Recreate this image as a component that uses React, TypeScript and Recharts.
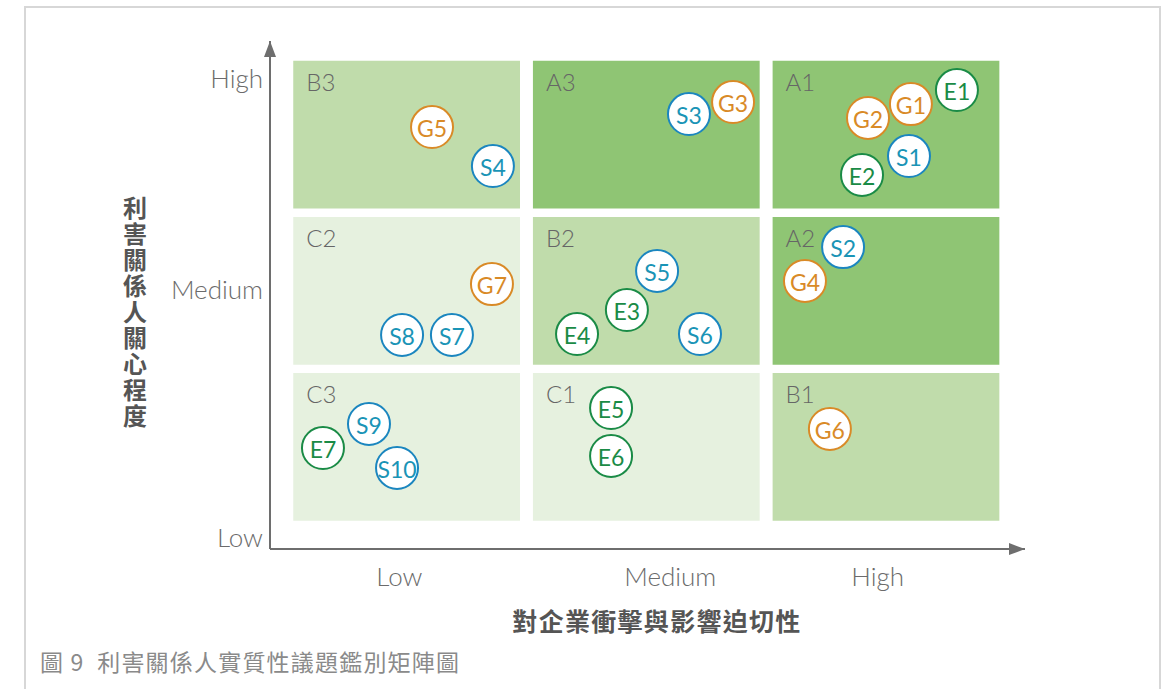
import {
  ScatterChart,
  Scatter,
  XAxis,
  YAxis,
  ReferenceArea,
  ReferenceDot,
} from "recharts";

// axis levels and where their labels sit
const X_TICKS = [0.47, 1.6, 2.465];
const Y_TICKS = [-0.084, 1.505, 2.857];
const LEVEL_LABELS = ["Low", "Medium", "High"];

// 3x3 matrix cells, top row first, left column first
const CELL_ROWS = [
  ["B3", "A3", "A1"],
  ["C2", "B2", "A2"],
  ["C3", "C1", "B1"],
];

// issues: x = impact urgency, y = stakeholder concern
const governanceIssues = [
  { id: "G1", x: 2.604, y: 2.696 },
  { id: "G2", x: 2.425, y: 2.607 },
  { id: "G3", x: 1.862, y: 2.709 },
  { id: "G4", x: 2.162, y: 1.563 },
  { id: "G5", x: 0.606, y: 2.549 },
  { id: "G6", x: 2.266, y: 0.615 },
  { id: "G7", x: 0.856, y: 1.543 },
];

const socialIssues = [
  { id: "S1", x: 2.596, y: 2.363 },
  { id: "S2", x: 2.321, y: 1.78 },
  { id: "S3", x: 1.678, y: 2.632 },
  { id: "S4", x: 0.86, y: 2.299 },
  { id: "S5", x: 1.545, y: 1.627 },
  { id: "S6", x: 1.724, y: 1.223 },
  { id: "S7", x: 0.689, y: 1.217 },
  { id: "S8", x: 0.481, y: 1.217 },
  { id: "S9", x: 0.343, y: 0.647 },
  { id: "S10", x: 0.46, y: 0.365 },
];

const environmentIssues = [
  { id: "E1", x: 2.796, y: 2.786 },
  { id: "E2", x: 2.4, y: 2.242 },
  { id: "E3", x: 1.419, y: 1.377 },
  { id: "E4", x: 1.211, y: 1.223 },
  { id: "E5", x: 1.353, y: 0.749 },
  { id: "E6", x: 1.353, y: 0.442 },
  { id: "E7", x: 0.151, y: 0.493 },
];

const X_DOMAIN: [number, number] = [-0.07, 3.08];
const Y_DOMAIN: [number, number] = [-0.154, 3.1];
const GAP = 0.027;

const CELL_FILL: Record<string, string> = {
  A: "#8fc574",
  B: "#c0dcab",
  C: "#e6f1df",
};

const latin = "Lato, 'Open Sans', sans-serif";
const cjk = "'Noto Sans CJK TC', 'Noto Sans CJK SC', sans-serif";

const levelLabel = (ticks: number[]) => (v: number) => {
  const i = ticks.indexOf(v);
  return i >= 0 ? LEVEL_LABELS[i] : "";
};

const bubble = (stroke: string, textColor: string) => (props: any) => {
  const { cx, cy, payload } = props;
  if (cx == null || cy == null) return <g />;
  return (
    <g>
      <circle cx={cx} cy={cy} r={21} fill="#fff" stroke={stroke} strokeWidth={2} />
      <text
        x={cx}
        y={cy + 1}
        textAnchor="middle"
        dominantBaseline="central"
        fill={textColor}
        fontFamily={latin}
        fontSize={23}
      >
        {payload.id}
      </text>
    </g>
  );
};

const arrowRight = (p: any) => (
  <polygon
    points={`${p.cx},${p.cy} ${p.cx - 16},${p.cy - 6} ${p.cx - 16},${p.cy + 6}`}
    fill="#6e6e6e"
  />
);

const arrowUp = (p: any) => (
  <polygon
    points={`${p.cx},${p.cy} ${p.cx - 6},${p.cy + 16} ${p.cx + 6},${p.cy + 16}`}
    fill="#6e6e6e"
  />
);

const tickStyle = { fill: "#6b6b6b", fontSize: 26, fontFamily: latin, fontWeight: 300 };

export default function App() {
  const cells = CELL_ROWS.flatMap((row, r) =>
    row.map((name, c) => {
      const level = 2 - r;
      return { name, x1: c + GAP, x2: c + 1 - GAP, y1: level + GAP, y2: level + 1 - GAP };
    })
  );

  return (
    <div
      style={{
        position: "absolute",
        left: 0,
        top: 0,
        width: 1161,
        height: 689,
        overflow: "hidden",
        background: "#fff",
      }}
    >
      <div
        style={{
          position: "absolute",
          left: 24,
          top: 6,
          width: 1133,
          height: 700,
          borderLeft: "2px solid #d7d7d7",
          borderTop: "2px solid #d7d7d7",
          borderRight: "2px solid #d7d7d7",
        }}
      />
      <div style={{ position: "absolute", left: 0, top: 0 }}>
        <ScatterChart width={1161} height={689} margin={{ top: 41, right: 136, bottom: 0, left: 0 }}>
          <XAxis
            type="number"
            dataKey="x"
            domain={X_DOMAIN}
            ticks={X_TICKS}
            interval={0}
            tickFormatter={levelLabel(X_TICKS)}
            tickLine={false}
            tickSize={0}
            tickMargin={19}
            height={140}
            axisLine={{ stroke: "#6e6e6e", strokeWidth: 2 }}
            tick={tickStyle}
            label={{
              content: () => (
                <text
                  x={657}
                  y={631}
                  textAnchor="middle"
                  fill="#555"
                  fontFamily={cjk}
                  fontWeight={700}
                  fontSize={25}
                  letterSpacing={1.3}
                >
                  對企業衝擊與影響迫切性
                </text>
              ),
            }}
          />
          <YAxis
            type="number"
            dataKey="y"
            domain={Y_DOMAIN}
            ticks={Y_TICKS}
            interval={0}
            tickFormatter={levelLabel(Y_TICKS)}
            tickLine={false}
            tickSize={0}
            tickMargin={7}
            width={270}
            axisLine={{ stroke: "#6e6e6e", strokeWidth: 2 }}
            tick={tickStyle}
            label={{
              content: () => (
                <text
                  x={135}
                  y={196}
                  fill="#555"
                  fontFamily={cjk}
                  fontWeight={700}
                  fontSize={24}
                  letterSpacing={2}
                  style={{ writingMode: "vertical-rl" }}
                >
                  利害關係人關心程度
                </text>
              ),
            }}
          />
          {cells.map((cell) => (
            <ReferenceArea
              key={cell.name}
              x1={cell.x1}
              x2={cell.x2}
              y1={cell.y1}
              y2={cell.y2}
              fill={CELL_FILL[cell.name[0]]}
              fillOpacity={1}
              stroke="none"
              label={{
                value: cell.name,
                position: "insideTopLeft",
                offset: 13,
                fill: "#666",
                fontSize: 24,
                fontFamily: latin,
                fontWeight: 300,
              }}
            />
          ))}
          <ReferenceDot x={X_DOMAIN[1]} y={Y_DOMAIN[0]} shape={arrowRight} />
          <ReferenceDot x={X_DOMAIN[0]} y={Y_DOMAIN[1]} shape={arrowUp} />
          <Scatter
            name="governance"
            data={governanceIssues}
            shape={bubble("#d98a27", "#d98a27")}
            isAnimationActive={false}
          />
          <Scatter
            name="social"
            data={socialIssues}
            shape={bubble("#1b86bf", "#1a94b6")}
            isAnimationActive={false}
          />
          <Scatter
            name="environment"
            data={environmentIssues}
            shape={bubble("#1a8b46", "#1a8b46")}
            isAnimationActive={false}
          />
          <text
            x={40}
            y={671}
            fill="#8a8a8a"
            fontFamily={cjk}
            fontSize={23}
            letterSpacing={1.2}
            style={{ whiteSpace: "pre" }}
          >
            {"圖 9  利害關係人實質性議題鑑別矩陣圖"}
          </text>
        </ScatterChart>
      </div>
    </div>
  );
}
